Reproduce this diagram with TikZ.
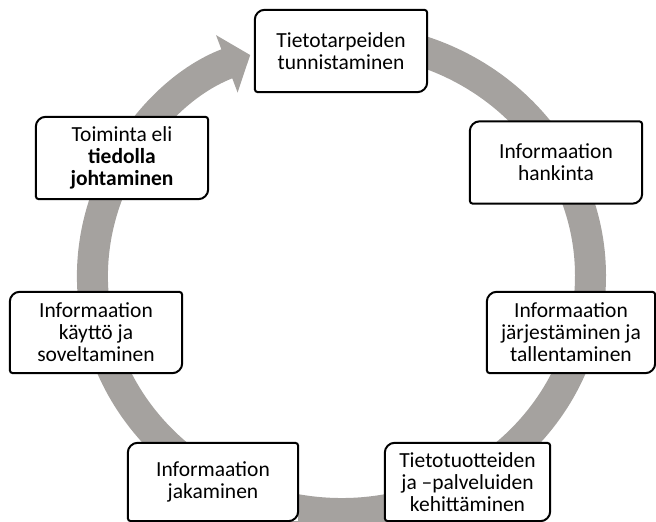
\documentclass[tikz,border=0pt]{standalone}
\usepackage{fontspec}
\setmainfont{Carlito}
\usetikzlibrary{arrows.meta}
\definecolor{ringgray}{RGB}{165,162,159}
\tikzstyle{Stage}=[rectangle, minimum width=172, minimum height=82, inner sep=0, align=center, fill=white, font=\fontsize{21.5}{22}\selectfont]
\tikzstyle{StageLine}=[draw=black, line width=2]
\newcommand{\stageframe}[1]{%
  \draw[StageLine] (#1.west) [rounded corners=10] -- (#1.north west) [rounded corners=3] -- (#1.north east)
    [rounded corners=10] -- (#1.south east) [rounded corners=3] -- (#1.south west) -- cycle;}

\begin{document}
\begin{tikzpicture}[x=1pt, y=1pt]
    \useasboundingbox (0,0) rectangle (656,522);

    % the cycle
    \coordinate (ringstart) at (384.7,479.9);
    \draw[ringgray, line width=31, -{Triangle[width=60pt, length=25pt]}] (ringstart)
        arc[start angle=80, end angle=-248.5, x radius=249, y radius=237.5];

    \path
    (341,471) node[Stage] (tarpeet) {Tietotarpeiden\\tunnistaminen}
    (556,359.5) node[Stage] (hankinta) {Informaation\\hankinta}
    (571,189.5) node[Stage, minimum width=168, minimum height=81] (tallennus) {Informaation\\järjestäminen ja\\tallentaminen}
    (467.5,40) node[Stage, minimum width=165, minimum height=78] (kehitys) {Tietotuotteiden\\ja –palveluiden\\kehittäminen};

    \path
    (213,40) node[Stage, minimum width=170, minimum height=78] (jakaminen) {Informaation\\jakaminen}
    (96,189.5) node[Stage, minimum height=81] (kaytto) {Informaation\\käyttö ja\\soveltaminen}
    (122,364) node[Stage] (johtaminen) {Toiminta eli\\\textbf{tiedolla}\\\textbf{johtaminen}};

    \stageframe{tarpeet}
    \stageframe{hankinta}
    \stageframe{tallennus}
    \stageframe{kehitys}
    \stageframe{jakaminen}
    \stageframe{kaytto}
    \stageframe{johtaminen}
\end{tikzpicture}
\end{document}
